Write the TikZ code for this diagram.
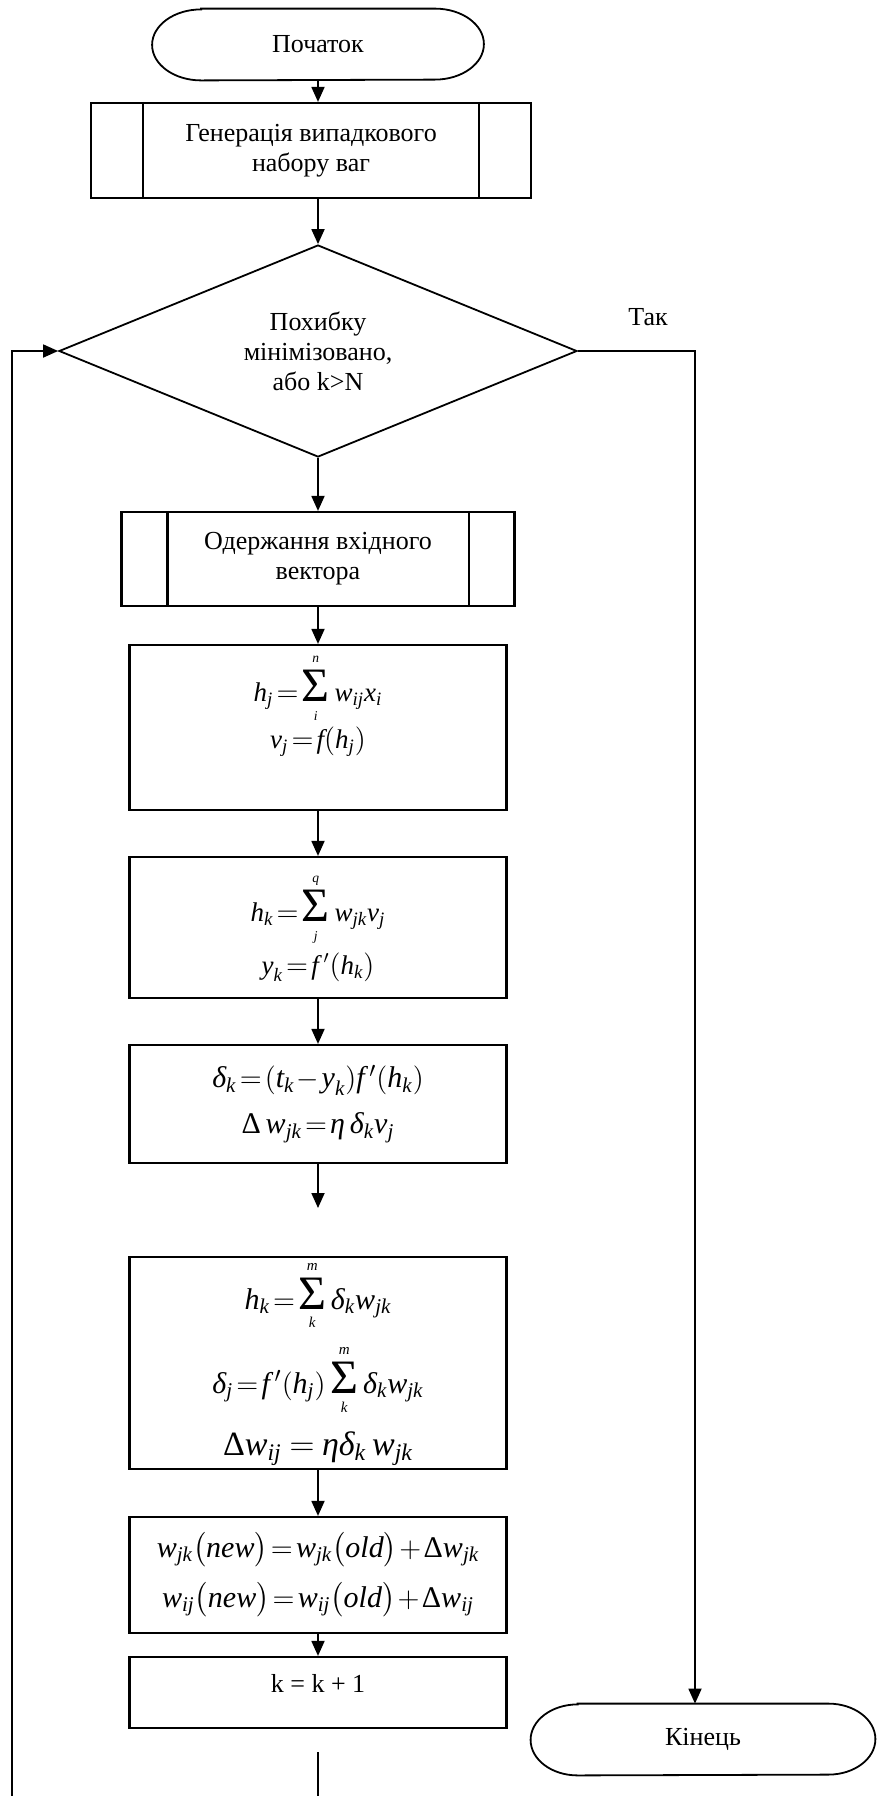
\documentclass[tikz,border=0pt]{standalone}
\usepackage{fontspec}
\setmainfont{Liberation Serif}
\usepackage{amsmath}
\usetikzlibrary{shapes.geometric,arrows.meta}

\newcommand{\iv}[1]{\textit{#1}}
\newcommand{\vs}[2]{\textit{#1}_{\textit{#2}}}
\newcommand{\sm}[2]{\mathop{\hbox{\fontsize{24pt}{24pt}\selectfont Σ}}\limits_{\scriptscriptstyle\rule{0pt}{7pt}\iv{#1}}^{\scriptscriptstyle\iv{#2}\rule[-2pt]{0pt}{2pt}}}
% outline of a start/end terminal round node #1, end radius #2
\newcommand{\termline}[2]{%
  \draw[line width=0.9pt] ([xshift=#2]#1.north west) -- ([xshift=-#2]#1.north east)
    arc[start angle=90,end angle=-90,x radius=#2,y radius=17.75pt]
    -- ([xshift=#2]#1.south west)
    arc[start angle=270,end angle=90,x radius=#2,y radius=17.75pt] -- cycle;}
\thickmuskip=2mu plus 1mu
\medmuskip=1.5mu plus 1mu

\tikzset{
  arr/.style={line width=0.9pt,-{Triangle[length=7.5pt,width=6.5pt]}},
  box/.style={draw,line width=1.1pt,minimum width=188.5pt,align=center,inner sep=0pt},
  sub/.style={draw,line width=1.1pt,align=center,inner sep=0pt},
  term/.style={minimum height=35.5pt,inner sep=0pt},
  cond/.style={draw,diamond,line width=0.9pt,aspect=2.44,minimum width=259pt,
    minimum height=106pt,inner sep=0pt,align=center},
}

\begin{document}
\begin{tikzpicture}[x=0.5pt,y=-0.5pt,font=\fontsize{13pt}{15pt}\selectfont]
  \useasboundingbox (0,0) rectangle (878,1796);

  \node[term,minimum width=165.5pt] (start) at (318,44.5) {Початок};
  \node[sub,minimum width=220pt,minimum height=47.5pt] (gen) at (311,150.5)
    {Генерація випадкового\\набору ваг};
  \node[cond] (dec) at (318,351) {Похибку\\мінімізовано,\\або k>N};
  \node (tak) at (648,317) {Так};
  \node[sub,minimum width=196.5pt,minimum height=47pt] (odr) at (318,559)
    {Одержання вхідного\\вектора};

  % formula blocks
  \node[box,minimum height=82.5pt,font=\fontsize{13.5pt}{22.5pt}\selectfont] (f1) at (318,727.5)
    {$\vs{h}{j}=\sm{i}{n}\vs{w}{ij}\vs{x}{i}$\\[1pt]
     $\vs{v}{j}=\iv{f}(\vs{h}{j})$\\[4pt]~};
  \node[box,minimum height=70.5pt,font=\fontsize{13.5pt}{23.5pt}\selectfont] (f2) at (318,927.5)
    {$\vs{h}{k}=\sm{j}{q}\vs{w}{jk}\vs{v}{j}$\\[3pt]
     $\vs{y}{k}=\iv{f}\,'(\vs{h}{k})$};
  \node[box,minimum height=59pt,font=\fontsize{15pt}{23pt}\selectfont] (f3) at (318,1104)
    {$\vs{δ}{k}=(\vs{t}{k}-\vs{y}{k})\iv{f}\,'(\vs{h}{k})$\\
     $\textrm{Δ}\,\vs{w}{jk}=\iv{η}\,\vs{δ}{k}\vs{v}{j}$};
  \node[box,minimum height=106pt,font=\fontsize{15pt}{28pt}\selectfont] (f4) at (318,1363)
    {$\vs{h}{k}=\sm{k}{m}\vs{δ}{k}\vs{w}{jk}$\\[6pt]
     $\vs{δ}{j}=\iv{f}\,'(\vs{h}{j})\sm{k}{m}\vs{δ}{k}\vs{w}{jk}$\\[3pt]
     {\fontsize{17pt}{28pt}\selectfont$\textrm{Δ}\vs{w}{ij}\;=\;\iv{η}\vs{δ}{k}\,\vs{w}{jk}$}};
  \node[box,minimum height=58pt,font=\fontsize{15pt}{25pt}\selectfont] (f5) at (318,1575)
    {$\vs{w}{jk}\bigl(\iv{new}\bigr)=\vs{w}{jk}\bigl(\iv{old}\bigr)+\textrm{Δ}\vs{w}{jk}$\\
     $\vs{w}{ij}\bigl(\iv{new}\bigr)=\vs{w}{ij}\bigl(\iv{old}\bigr)+\textrm{Δ}\vs{w}{ij}$};
  \node[box,minimum height=35.5pt,text height=5pt,text depth=5pt] (f6) at (318,1692.5) {k = k + 1};

  \node[term,minimum width=172pt] (end) at (703,1739.5) {Кінець};

  % terminal outlines and side bars
  \termline{start}{24.5pt}
  \termline{end}{23.5pt}
  \foreach \n/\d in {gen/26.5pt,odr/23.5pt}{
    \draw[line width=1.1pt] ([xshift=\d]\n.north west) -- ([xshift=\d]\n.south west);
    \draw[line width=1.1pt] ([xshift=-\d]\n.north east) -- ([xshift=-\d]\n.south east);
  }

  % connectors
  \coordinate (yes) at (695,351);
  \coordinate (back) at (12,1796);
  \coordinate (gap) at (318,1208);
  \coordinate (cut) at (318,1752);
  \coordinate (cutend) at (318,1796);
  \draw[arr] (start.south) -- (start.south |- gen.north);
  \draw[arr] (start |- gen.south) -- (dec.north);
  \draw[arr] (dec.south) -- (odr.north);
  \draw[arr] (odr) -- (f1);
  \draw[arr] (f1) -- (f2);
  \draw[arr] (f2) -- (f3);
  \draw[arr] (f3) -- (gap);
  \draw[arr] (f4) -- (f5);
  \draw[arr] (f5) -- (f6);
  \draw[line width=0.9pt] (cut) -- (cutend);
  \draw[arr] (dec.east) -- (yes) -- (yes |- end.north);
  \draw[arr] (back) |- (dec.west);
\end{tikzpicture}
\end{document}
